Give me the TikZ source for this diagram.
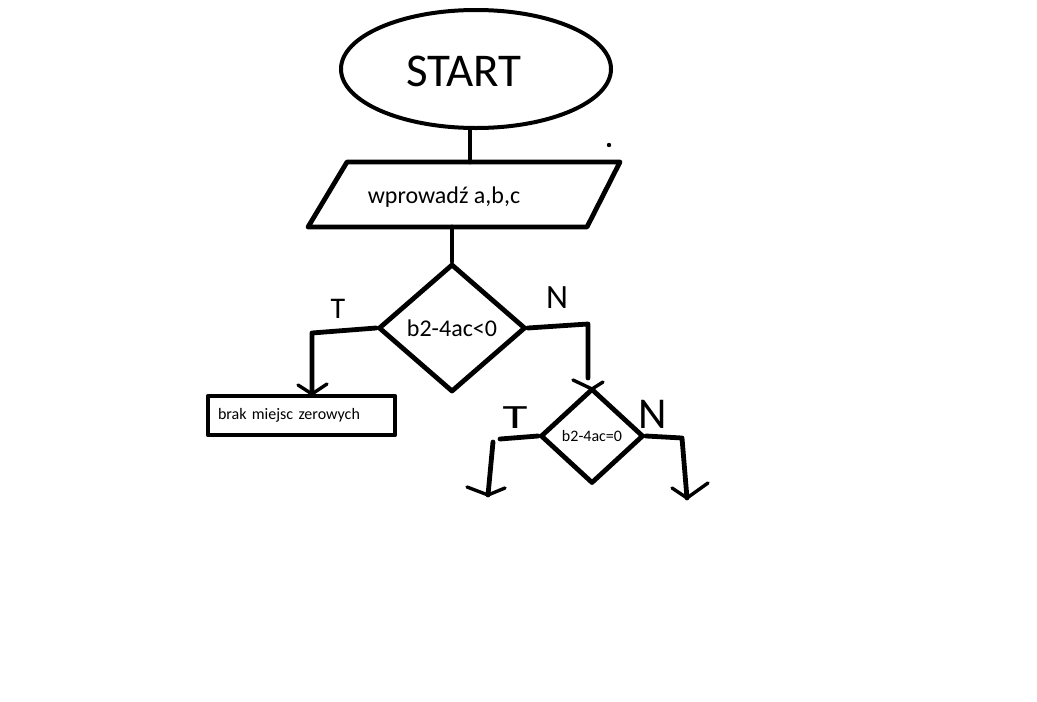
\documentclass[tikz,border=0pt]{standalone}
\usepackage{fontspec}
\setmainfont{Carlito}
\usetikzlibrary{shapes.geometric}
\begin{document}
\begin{tikzpicture}[x=1pt,y=-1pt, line width=4.8pt, line cap=round, line join=round,
  box/.style={draw, line width=4.8pt, inner sep=0pt},
  hand/.style={line width=3.4pt},
  lbl/.style={inner sep=0pt, font=\fontsize{34}{40}\selectfont}]
\useasboundingbox (0,0) rectangle (1037,702);
% START
\node[box, ellipse, line width=4pt, minimum width=270pt, minimum height=118pt] (start) at (476,69) {};
\node[inner sep=0pt, font=\fontsize{47}{56}\selectfont] (starttxt) at (464,71) {START};
% input parallelogram
\draw (347,162) -- (620,162) -- (587,227) -- (308,227) -- cycle;
\node[inner sep=0pt, font=\fontsize{24}{28}\selectfont] (inp) at (444,197) {wprowadź a,b,c};
\coordinate (inTop) at (470,162);
\coordinate (inBot) at (452,227);
\fill (609,145) circle (2.2pt);
% decision 1
\node[box, diamond, minimum width=147pt, minimum height=128pt, font=\fontsize{24}{28}\selectfont] (d1) at (452,328) {b2-4ac<0};
% output box
\node[box, rectangle, minimum width=187pt, minimum height=39pt, text width=167pt, inner xsep=10pt, align=left, font=\fontsize{16}{19}\selectfont] (r1) at (301.5,415.5) {brak miejsc zerowych};
% decision 2
\node[box, diamond, minimum width=103pt, minimum height=95pt, font=\fontsize{16}{19}\selectfont] (d2) at (592,436) {b2-4ac=0};
% connectors
\draw (start.south -| inTop) -- (inTop);
\draw (inBot) -- (d1.north);
\coordinate (tA) at (312,333);
\coordinate (tB) at (312,394);
\draw (d1.west) -- (tA) -- (tB);
\draw[hand] (298,385) -- (tB) -- (327,384);
\coordinate (nA) at (588,324);
\coordinate (nB) at (588,378);
\draw (d1.east) -- (nA) -- (nB);
\draw[hand] (573,380) -- (592,389) -- (603,382);
\coordinate (lA) at (500,439);
\coordinate (lB) at (493,442);
\coordinate (lC) at (488,495);
\draw (d2.west) -- (lA);
\draw (lB) -- (lC);
\draw[hand] (467,487) -- (lC) -- (505,488);
\coordinate (rA) at (682,438);
\coordinate (rB) at (687,498);
\draw (d2.east) -- (rA) -- (rB);
\draw[hand] (672,488) -- (rB) -- (708,483);
% branch labels
\node[lbl, font=\fontsize{30}{36}\selectfont] (t1) at (338,309) {T};
\node[lbl] (n1) at (557,298) {N};
\node[lbl, xscale=1.5] (t2) at (515,418) {T};
\node[lbl, font=\fontsize{44}{50}\selectfont] (n2) at (653,414) {N};
\end{tikzpicture}
\end{document}
